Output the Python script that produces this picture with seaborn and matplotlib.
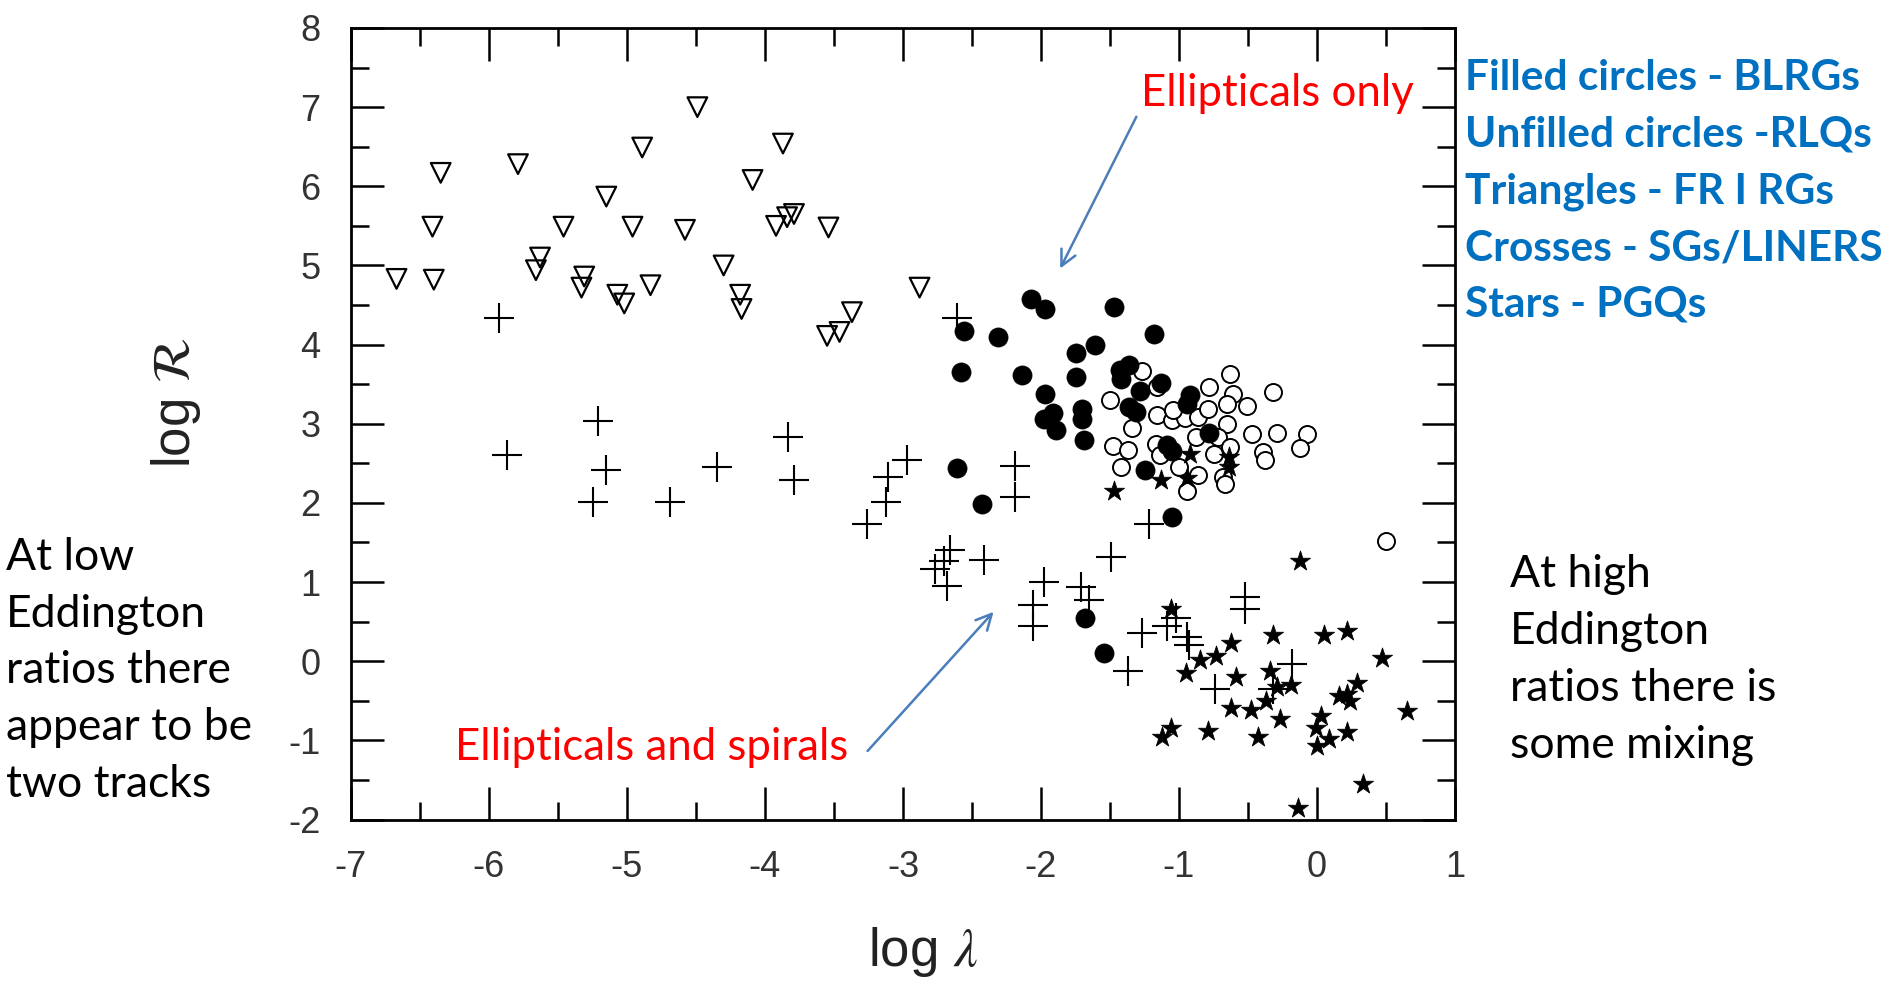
import matplotlib
matplotlib.use("Agg")
import matplotlib.pyplot as plt
import seaborn as sns
import numpy as np

# ---------------- data ----------------
tri_x = [-6.67, -6.40, -6.41, -6.35, -5.79, -5.66, -5.63, -5.46, -5.33, -5.31,
         -5.15, -5.07, -5.02, -4.96, -4.89, -4.83, -4.58, -4.49, -4.30, -4.18,
         -4.17, -4.09, -3.92, -3.87, -3.84, -3.79, -3.54, -3.55, -3.46, -3.37, -2.88]
tri_y = [4.83, 4.82, 5.49, 6.17, 6.28, 4.94, 5.10, 5.49, 4.72, 4.86,
         5.87, 4.63, 4.52, 5.49, 6.49, 4.75, 5.45, 7.00, 5.00, 4.63,
         4.45, 6.08, 5.50, 6.54, 5.61, 5.65, 5.48, 4.11, 4.16, 4.41, 4.72]

filled_x = [-2.07, -1.97, -1.47, -2.56, -2.31, -1.18, -1.75, -1.61, -2.58, -2.14,
            -1.75, -1.97, -1.43, -1.36, -1.42, -1.28, -1.13, -1.98, -1.91, -1.89,
            -1.70, -1.70, -1.69, -1.36, -1.31, -0.92, -0.94, -0.78, -1.09, -1.05,
            -2.61, -2.43, -1.25, -1.05, -1.68, -1.54]
filled_y = [4.57, 4.45, 4.48, 4.17, 4.10, 4.13, 3.89, 3.99, 3.65, 3.62,
            3.59, 3.38, 3.68, 3.74, 3.57, 3.42, 3.51, 3.06, 3.13, 2.92,
            3.19, 3.06, 2.79, 3.21, 3.15, 3.36, 3.25, 2.88, 2.73, 2.66,
            2.44, 1.98, 2.41, 1.82, 0.55, 0.10]

open_x = [-1.27, -1.16, -1.50, -1.34, -1.16, -1.05, -0.96, -0.86, -0.78, -0.63,
          -0.61, -0.65, -0.51, -0.79, -0.65, -0.88, -0.72, -0.47, -0.29, -0.32,
          -0.07, -0.12, -0.39, -0.38, -1.48, -1.37, -1.17, -1.14, -1.42, -1.00,
          -0.86, -0.94, -0.68, -0.67, -0.63, -0.75, -1.04, 0.50]
open_y = [3.67, 3.47, 3.30, 2.94, 3.11, 3.05, 3.07, 3.08, 3.47, 3.63,
          3.38, 3.25, 3.22, 3.19, 3.00, 2.83, 2.83, 2.87, 2.88, 3.40,
          2.87, 2.69, 2.64, 2.54, 2.72, 2.67, 2.75, 2.60, 2.45, 2.45,
          2.35, 2.15, 2.33, 2.24, 2.71, 2.62, 3.17, 1.52]

cross_x = [-5.93, -2.61, -5.87, -5.21, -5.15, -5.25, -4.69, -4.35, -3.83, -3.79,
           -3.26, -3.11, -3.12, -2.97, -2.19, -2.19, -2.66, -2.70, -2.77, -2.68,
           -2.41, -1.98, -2.06, -2.06, -1.71, -1.65, -1.49, -1.22, -1.27, -1.37,
           -1.09, -1.02, -0.94, -0.93, -0.52, -0.52, -0.18, -0.74, -0.32]
cross_y = [4.34, 4.33, 2.61, 3.03, 2.42, 2.01, 2.01, 2.45, 2.83, 2.29,
           1.73, 2.33, 2.01, 2.54, 2.46, 2.08, 1.41, 1.26, 1.17, 0.95,
           1.28, 1.00, 0.71, 0.45, 0.94, 0.77, 1.32, 1.73, 0.36, -0.12,
           0.45, 0.55, 0.30, 0.20, 0.81, 0.66, -0.03, -0.35, -0.35]

star_x = [-1.47, -1.13, -0.92, -0.94, -0.64, -0.64, -0.12, -1.06, -0.32, 0.05,
          0.22, 0.47, -0.62, -0.73, -0.85, -0.95, -0.59, -0.34, -0.29, -0.19,
          -0.37, -0.62, -0.48, -0.27, 0.16, 0.22, 0.29, 0.24, 0.65, 0.03,
          -0.01, 0.09, 0.00, 0.22, -1.06, -1.12, -0.79, -0.43, 0.33, -0.14]
star_y = [2.15, 2.29, 2.62, 2.31, 2.58, 2.45, 1.26, 0.66, 0.33, 0.33,
          0.38, 0.04, 0.23, 0.07, 0.01, -0.15, -0.20, -0.13, -0.33, -0.30,
          -0.50, -0.59, -0.62, -0.73, -0.44, -0.41, -0.27, -0.50, -0.63, -0.69,
          -0.84, -0.98, -1.07, -0.90, -0.84, -0.96, -0.88, -0.96, -1.55, -1.85]

x_ticks = [-7, -6, -5, -4, -3, -2, -1, 0, 1]
y_ticks = [-2, -1, 0, 1, 2, 3, 4, 5, 6, 7, 8]

legend_lines = ["Filled circles - BLRGs", "Unfilled circles -RLQs",
                "Triangles - FR I RGs", "Crosses - SGs/LINERS", "Stars - PGQs"]
left_note = ["At low", "Eddington", "ratios there", "appear to be", "two tracks"]
right_note = ["At high", "Eddington", "ratios there is", "some mixing"]

# ---------------- style ----------------
sns.set_theme(style="white")
plt.rcParams["font.family"] = ["Liberation Sans", "DejaVu Sans"]
plt.rcParams["mathtext.fontset"] = "stix"

W, H = 1887, 983
fig = plt.figure(figsize=(W / 100, H / 100), dpi=100)
ax = fig.add_axes([351 / W, 1 - 819.5 / H, 1104 / W, 791.5 / H])

sns.scatterplot(x=tri_x, y=tri_y, ax=ax, marker="v", s=200,
                facecolor="none", edgecolor="black", linewidth=1.6, zorder=3)
sns.scatterplot(x=cross_x, y=cross_y, ax=ax, marker="+", s=480,
                color="black", linewidth=1.5, zorder=3)
sns.scatterplot(x=open_x, y=open_y, ax=ax, marker="o", s=150,
                facecolor="white", edgecolor="black", linewidth=1.4, zorder=4)
sns.scatterplot(x=filled_x, y=filled_y, ax=ax, marker="o", s=190,
                color="black", edgecolor="black", linewidth=0.5, zorder=5)
sns.scatterplot(x=star_x, y=star_y, ax=ax, marker="*", s=230,
                color="black", edgecolor="black", linewidth=0.6, zorder=6)

ax.set_xlim(-7, 1)
ax.set_ylim(-2, 8)
ax.set_xticks(x_ticks)
ax.set_yticks(y_ticks)
ax.set_xticks(np.arange(-6.5, 1, 1.0), minor=True)
ax.set_yticks(np.arange(-1.5, 8, 1.0), minor=True)
ax.set_xticklabels([str(v) for v in x_ticks])
ax.set_yticklabels([str(v) for v in y_ticks])
ax.tick_params(which="both", direction="in", top=True, right=True,
               bottom=True, left=True, color="black", width=1.8)
ax.tick_params(which="major", length=24, pad=22, labelsize=26, labelcolor="#333333")
ax.tick_params(which="minor", length=13)
for sp in ax.spines.values():
    sp.set_color("black")
    sp.set_linewidth(2.0)

ax.set_xlabel(r"log $\lambda$", fontsize=38, color="#222222")
ax.set_ylabel(r"log $\mathcal{R}$", fontsize=38, color="#222222")
ax.xaxis.set_label_coords((923 - 351) / 1104, (819.5 - 925) / 791.5)
ax.yaxis.set_label_coords((203 - 351) / 1104, (819.5 - 403) / 791.5)

# ---------------- annotations ----------------
def fx(px):
    return px / W

def fy(py):
    return 1 - py / H

txt_font = ["Lato", "DejaVu Sans"]
blue = "#0070C0"
red = "#FF0000"
arrow_c = "#4A7EBB"

for i, line in enumerate(legend_lines):
    fig.text(fx(1465), fy(90 + i * 56.7), line, color=blue, fontsize=30.5,
             fontweight="bold", family=txt_font, ha="left", va="baseline")

for i, line in enumerate(left_note):
    fig.text(fx(6), fy(570 + i * 56.7), line, color="black", fontsize=32,
             family=txt_font, ha="left", va="baseline")

for i, line in enumerate(right_note):
    fig.text(fx(1510), fy(587 + i * 57), line, color="black", fontsize=32,
             family=txt_font, ha="left", va="baseline")

fig.text(fx(1141), fy(106), "Ellipticals only", color=red, fontsize=31.5,
         family=txt_font, ha="left", va="baseline")
fig.text(fx(455), fy(760), "Ellipticals and spirals", color=red, fontsize=31.5,
         family=txt_font, ha="left", va="baseline")

ax.annotate("", xy=(-1.87, 4.93), xytext=(-1.30, 6.91),
            arrowprops=dict(arrowstyle="->", color=arrow_c, lw=1.8,
                            mutation_scale=28), annotation_clip=False)
ax.annotate("", xy=(-2.33, 0.65), xytext=(-3.27, -1.16),
            arrowprops=dict(arrowstyle="->", color=arrow_c, lw=1.8,
                            mutation_scale=28), annotation_clip=False)

fig.savefig("out.png", dpi=100, facecolor="white")
